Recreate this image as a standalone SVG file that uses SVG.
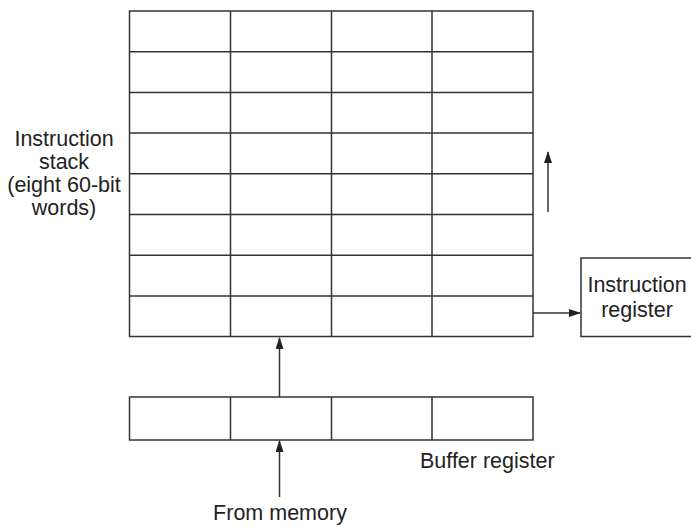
<svg xmlns="http://www.w3.org/2000/svg" width="691" height="525" viewBox="0 0 691 525">
<style>
.box{fill:none;stroke:#333;stroke-width:1.5}
.ln{stroke:#333;stroke-width:1.5;fill:none}
.t{font-family:"Liberation Sans",Arial,sans-serif;font-size:21.5px;fill:#222}
</style>
<defs>
<marker id="ah" markerWidth="12" markerHeight="8" refX="11" refY="4" orient="auto" markerUnits="userSpaceOnUse">
<path d="M0,0 L12,4 L0,8 Z" fill="#222"/>
</marker>
</defs>
<g id="instruction-stack">
<rect class="box" x="129.5" y="11" width="403.5" height="325.5"/>
<path class="ln" d="M129.5,51.7H533 M129.5,92.4H533 M129.5,133.1H533 M129.5,173.8H533 M129.5,214.5H533 M129.5,255.2H533 M129.5,295.9H533 M230.5,11V336.5 M331.5,11V336.5 M432,11V336.5"/>
<text class="t" text-anchor="middle" x="64" y="146">Instruction</text>
<text class="t" text-anchor="middle" x="64" y="169">stack</text>
<text class="t" text-anchor="middle" x="64" y="192">(eight 60-bit</text>
<text class="t" text-anchor="middle" x="64" y="215">words)</text>
</g>
<g id="instruction-register">
<rect class="box" x="581" y="258" width="115" height="78.5"/>
<text class="t" text-anchor="middle" x="637" y="292">Instruction</text>
<text class="t" text-anchor="middle" x="637" y="317">register</text>
</g>
<g id="buffer-register">
<rect class="box" x="129.5" y="397" width="403.5" height="43"/>
<path class="ln" d="M230.5,397V440 M331.5,397V440 M432,397V440"/>
<text class="t" x="420" y="468">Buffer register</text>
</g>
<g id="from-memory">
<text class="t" text-anchor="middle" x="280" y="520">From memory</text>
</g>
<g id="connectors">
<line class="ln" x1="279.5" y1="397" x2="279.5" y2="338" marker-end="url(#ah)"/>
<line class="ln" x1="279.5" y1="497" x2="279.5" y2="441" marker-end="url(#ah)"/>
<line class="ln" x1="533" y1="313" x2="580" y2="313" marker-end="url(#ah)"/>
<line class="ln" x1="548" y1="212" x2="548" y2="152" marker-end="url(#ah)"/>
</g>
</svg>
